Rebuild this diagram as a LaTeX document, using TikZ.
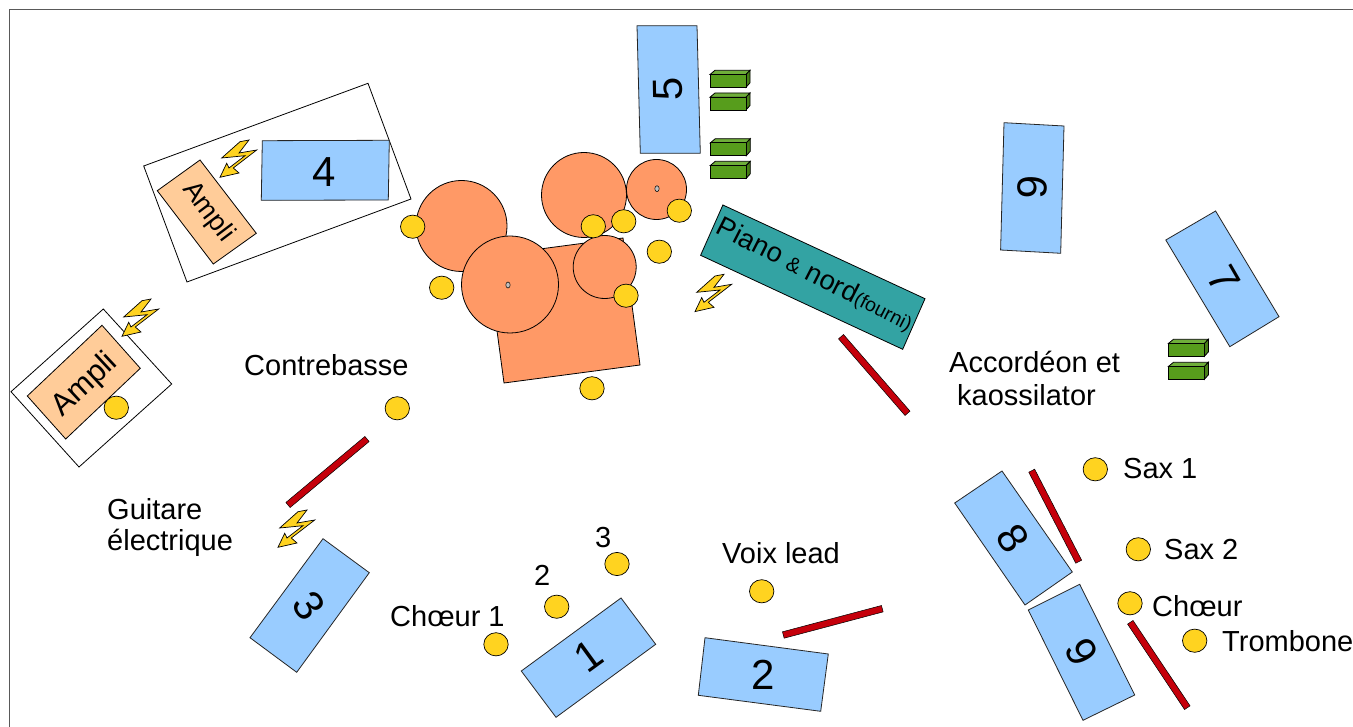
\documentclass[tikz,border=0pt]{standalone}
\usepackage{fontspec}
\setmainfont{Liberation Sans}
\usetikzlibrary{calc}
\tikzset{
  blue box/.style={draw=black!85,line width=0.8pt,fill=bluefill,line join=miter},
  orange shape/.style={draw=black,line width=0.8pt,fill=orangefill},
  ampli box/.style={draw=black,line width=0.8pt,fill=amplifill},
  frame box/.style={draw=black,line width=0.8pt,fill=white},
  mic/.style={draw=black,line width=0.7pt,fill=micfill},
  stand/.style={draw=black,line width=0.5pt,fill=standfill},
  lbl/.style={font=\fontsize{29}{32}\selectfont,inner sep=0pt,text=black},
  num/.style={font=\fontsize{42}{44}\selectfont,inner sep=0pt,text=black},
}
\definecolor{bluefill}{HTML}{99CCFF}
\definecolor{orangefill}{HTML}{FF9966}
\definecolor{amplifill}{HTML}{FFCC99}
\definecolor{micfill}{HTML}{FFD320}
\definecolor{standfill}{HTML}{C5000B}
\definecolor{greenfill}{HTML}{579D1C}
\definecolor{greentop}{HTML}{6FAE3A}
\definecolor{greenside}{HTML}{467E16}
\definecolor{tealfill}{HTML}{33A3A3}
\newcommand{\bolt}[2]{\draw[draw=black,line width=0.7pt,fill=micfill,shift={(#1,#2)}]
  (20,1.7) -- (29,0) -- (19,13) -- (36.7,10) -- (13.3,28) -- (19,33) -- (0,37.3) -- (6.7,23.3) -- (9,28) -- (25,15.7) -- (1.7,18) -- cycle;}
\newcommand{\amp}[2]{%
  \draw[draw=black,line width=0.8pt,fill=greentop] (#1,#2+4.2) -- (#1+5,#2) -- (#1+40,#2) -- (#1+36,#2+4.2) -- cycle;
  \draw[draw=black,line width=0.8pt,fill=greenside] (#1+36,#2+4.2) -- (#1+40,#2) -- (#1+40,#2+12.5) -- (#1+36,#2+17) -- cycle;
  \draw[draw=black,line width=0.8pt,fill=greenfill] (#1,#2+4.2) rectangle (#1+36,#2+17);}
\newcommand{\redbar}[4]{%
  \coordinate (ra) at (#1,#2);
  \coordinate (rb) at (#3,#4);
  \draw[stand] ($(ra)!3.3pt!90:(rb)$) -- ($(ra)!3.3pt!-90:(rb)$) -- ($(rb)!3.3pt!90:(ra)$) -- ($(rb)!3.3pt!-90:(ra)$) -- cycle;}
\begin{document}
\begin{tikzpicture}[x=1pt,y=-1pt]
\useasboundingbox (0,0) rectangle (1353,727);
\fill[white] (0,0) rectangle (1353,727);
\draw[draw=black!65,line width=1pt] (9.5,728) -- (9.5,9.5) -- (1354,9.5);
% orange kit
\path[orange shape] (487,256) -- (623,238) -- (640,365) -- (504,383) -- cycle;
\node[orange shape,circle,minimum size=91pt,inner sep=0pt] (c1) at (461.5,226) {};
\node[orange shape,circle,minimum size=85pt,inner sep=0pt] (c3) at (584,195) {};
\node[orange shape,circle,minimum size=60pt,inner sep=0pt] (c4) at (656.5,189.5) {};
\node[orange shape,circle,minimum size=63pt,inner sep=0pt] (c5) at (604.7,267) {};
\node[orange shape,circle,minimum size=97pt,inner sep=0pt] (c2) at (510,284.5) {};
\fill[black!25,draw=black,line width=0.5pt] (508,285) ellipse (2.2 and 3);
\fill[black!25,draw=black,line width=0.5pt] (657,188.7) ellipse (2.2 and 3);
% frames
\draw[frame box] (368,83.3) -- (411,199) -- (187,282) -- (143.7,166) -- cycle;
\draw[frame box] (103.3,309) -- (171.7,384) -- (79,467) -- (11,391.7) -- cycle;
% amplis
\draw[ampli box] (200,160) -- (256.3,233.3) -- (213.3,264) -- (157.3,190.7) -- cycle;
\draw[ampli box] (102,325.3) -- (140.3,368.3) -- (65.7,439) -- (27.3,396) -- cycle;
\node[lbl,rotate=-53,font=\fontsize{27}{29}\selectfont] (a1) at (208,212) {Ampli};
\node[lbl,rotate=43,font=\fontsize{31}{32}\selectfont] (a2) at (85,385) {Ampli};
% blue stands
\draw[blue box] (637,25.7) -- (697,25.7) -- (700.3,153.3) -- (640.3,153.3) -- cycle;
\node[num,rotate=91] (n5) at (668.5,89) {5};
\draw[blue box] (262.3,140.7) -- (389.3,140.3) -- (388.3,200) -- (261.3,200.3) -- cycle;
\node[num] (n4) at (324,172) {4};
\draw[blue box] (1004,122.7) -- (1064,126) -- (1060.7,253.3) -- (1000.6,250) -- cycle;
\node[num,rotate=88] (n6a) at (1032,187) {9};
\draw[blue box] (1215.6,211) -- (1279,316.7) -- (1229.8,346.7) -- (1165.8,240) -- cycle;
\node[num,rotate=-60] (n7) at (1224,279) {7};
\draw[blue box] (1002,471) -- (1072.3,572) -- (1025,605) -- (954.7,503) -- cycle;
\node[num,rotate=-57] (n8) at (1013,538) {8};
\draw[blue box] (1079.7,584.3) -- (1134.7,695) -- (1083,720.3) -- (1028.3,610) -- cycle;
\node[num,rotate=-62] (n9) at (1082,652) {9};
\draw[blue box] (323,538.7) -- (369.3,572.7) -- (296.7,672.3) -- (250,637.7) -- cycle;
\node[num,rotate=-55] (n3) at (309,606) {3};
\draw[blue box] (621,598) -- (655.7,644.3) -- (556,717.3) -- (521.3,671) -- cycle;
\node[num,rotate=36] (n1) at (588,656) {1};
\draw[blue box] (705,637.7) -- (828.3,654) -- (820.7,711.3) -- (698.3,695.3) -- cycle;
\node[num,rotate=0] (n2) at (763,675) {2};
% piano
\draw[draw=black,line width=0.8pt,fill=tealfill] (722.9,205) -- (925,298.7) -- (902.7,349.3) -- (700.6,255.3) -- cycle;
\node[inner sep=0pt,rotate=-27] (piano) at (815,275) {\fontsize{27.5}{30}\selectfont Piano {\fontsize{21}{22}\selectfont \&} nord{\fontsize{19.5}{22}\selectfont (fourni)}};
% red stands
\redbar{841}{336.7}{907.5}{413.3}
\redbar{1031.7}{470.7}{1078.7}{561.7}
\redbar{1130.3}{622.3}{1187.3}{707.7}
\redbar{783.3}{635}{882.3}{608.7}
\redbar{288}{505}{367}{439}
% green
\amp{710}{70.3}
\amp{710}{93}
\amp{710.3}{138.7}
\amp{710.3}{161.3}
\amp{1168.4}{339.3}
\amp{1168.4}{362.3}
% bolts
\bolt{220}{140}
\bolt{122}{299}
\bolt{278}{510}
\bolt{695}{274.3}
% mics
\foreach \n/\x/\y in {m1/412.7/226.7,m2/441.7/287.7,m3/593.3/226.3,m4/623.7/221.3,m5/679.3/210.7,m6/659.3/251.7,m7/626/295.7,m8/592/388.3,m9/116.3/407.7,m10/397.3/408.3,m11/1095.3/469.3,m12/1138.3/549.3,m13/1130/603.3,m14/1194.7/640.7,m15/496/644.3,m16/556.7/606.7,m17/617/564,m18/761.7/591.3}
  \draw[mic] (\x,\y) ellipse (12.2 and 11.6) coordinate (\n);
% labels
\node[lbl,anchor=base west] (t1) at (244,376) {Contrebasse};
\node[lbl,anchor=base west] (t2) at (107,519) {Guitare};
\node[lbl,anchor=base west] (t3) at (107,550) {électrique};
\node[lbl,anchor=base west] (t4) at (390,626) {Chœur 1};
\node[lbl,anchor=base west] (t5) at (534,585) {2};
\node[lbl,anchor=base west] (t6) at (595,547) {3};
\node[lbl,anchor=base west] (t7) at (722,563) {Voix lead};
\node[lbl,anchor=base west] (t8) at (949,373) {Accordéon et};
\node[lbl,anchor=base west] (t9) at (957,406) {kaossilator};
\node[lbl,anchor=base west] (t10) at (1123,478) {Sax 1};
\node[lbl,anchor=base west] (t11) at (1164,559) {Sax 2};
\node[lbl,anchor=base west] (t12) at (1152,616) {Chœur};
\node[lbl,anchor=base west] (t13) at (1222,651) {Trombone};
\end{tikzpicture}
\end{document}
